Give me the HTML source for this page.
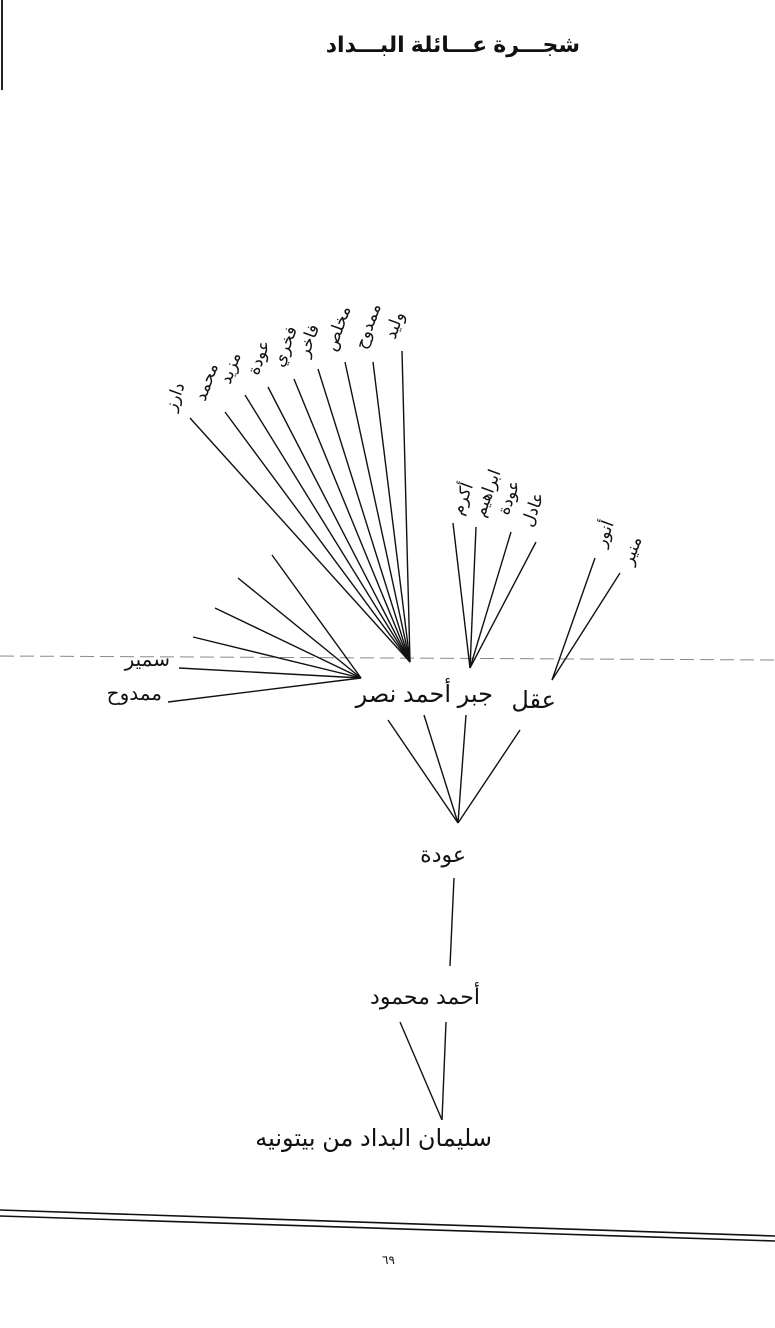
<!DOCTYPE html>
<html><head><meta charset="utf-8"><style>
html,body{margin:0;padding:0;background:#fff;}
svg{display:block;}
text{font-family:"Liberation Sans","DejaVu Sans","Noto Sans CJK SC",sans-serif;fill:#111;}
</style></head><body>
<svg width="775" height="1328" viewBox="0 0 775 1328" xmlns="http://www.w3.org/2000/svg">
<line x1="2" y1="0" x2="2" y2="90" stroke="#222" stroke-width="2"/>
<text x="580" y="52" font-size="22" font-weight="bold" text-anchor="end">شجـــرة عـــائلة البـــداد</text>

<line x1="0" y1="656" x2="775" y2="660" stroke="#888" stroke-width="1" stroke-dasharray="14,6"/>

<g stroke="#111" stroke-width="1.4" fill="none">
<line x1="190" y1="418" x2="410" y2="662"/>
<line x1="225" y1="412" x2="410" y2="662"/>
<line x1="245" y1="395" x2="410" y2="662"/>
<line x1="268" y1="387" x2="410" y2="662"/>
<line x1="294" y1="379" x2="410" y2="662"/>
<line x1="318" y1="369" x2="410" y2="662"/>
<line x1="345" y1="362" x2="410" y2="662"/>
<line x1="373" y1="362" x2="410" y2="662"/>
<line x1="402" y1="351" x2="410" y2="662"/>

<line x1="272" y1="555" x2="361" y2="678"/>
<line x1="238" y1="578" x2="361" y2="678"/>
<line x1="215" y1="608" x2="361" y2="678"/>
<line x1="193" y1="637" x2="361" y2="678"/>
<line x1="179" y1="668" x2="361" y2="678"/>
<line x1="168" y1="702" x2="361" y2="678"/>

<line x1="453" y1="523" x2="470" y2="668"/>
<line x1="476" y1="527" x2="470" y2="668"/>
<line x1="511" y1="532" x2="470" y2="668"/>
<line x1="536" y1="542" x2="470" y2="668"/>

<line x1="595" y1="558" x2="552" y2="680"/>
<line x1="620" y1="573" x2="552" y2="680"/>

<line x1="388" y1="720" x2="458" y2="823"/>
<line x1="424" y1="715" x2="458" y2="823"/>
<line x1="466" y1="715" x2="458" y2="823"/>
<line x1="520" y1="730" x2="458" y2="823"/>

<line x1="454" y1="878" x2="450" y2="966"/>
<line x1="400" y1="1022" x2="442" y2="1120"/>
<line x1="446" y1="1022" x2="442" y2="1120"/>
</g>

<g font-size="17">
<text transform="translate(175,412) rotate(-70)">دارز</text>
<text transform="translate(205,402) rotate(-70)">محمد</text>
<text transform="translate(230,385) rotate(-70)">مزيد</text>
<text transform="translate(258,376) rotate(-70)">عودة</text>
<text transform="translate(283,368) rotate(-70)">فخري</text>
<text transform="translate(308,358) rotate(-70)">فاخر</text>
<text transform="translate(335,352) rotate(-70)">مخلص</text>
<text transform="translate(365,350) rotate(-70)">ممدوح</text>
<text transform="translate(395,340) rotate(-70)">وليد</text>
<text transform="translate(462,516) rotate(-70)">أكرم</text>
<text transform="translate(484,518) rotate(-70)">ابراهيم</text>
<text transform="translate(508,516) rotate(-70)">عودة</text>
<text transform="translate(532,528) rotate(-70)">عادل</text>
<text transform="translate(605,548) rotate(-70)">أنور</text>
<text transform="translate(632,566) rotate(-70)">منير</text>
</g>

<g font-size="20">
<text x="170" y="666" text-anchor="end">سمير</text>
<text x="162" y="700" text-anchor="end">ممدوح</text>
<text x="493" y="702" text-anchor="end" font-size="24">جبر أحمد نصر</text>
<text x="556" y="708" text-anchor="end" font-size="24">عقل</text>
<text x="466" y="862" text-anchor="end" font-size="22">عودة</text>
<text x="480" y="1004" text-anchor="end" font-size="22">أحمد محمود</text>
<text x="492" y="1146" text-anchor="end" font-size="24">سليمان البداد من بيتونيه</text>
</g>

<g stroke="#111" stroke-width="1.6" fill="none">
<line x1="0" y1="1210" x2="775" y2="1236"/>
<line x1="0" y1="1216" x2="775" y2="1241"/>
</g>
<text x="382" y="1264" font-size="12" fill="#333">٦٩</text>
</svg>
</body></html>
